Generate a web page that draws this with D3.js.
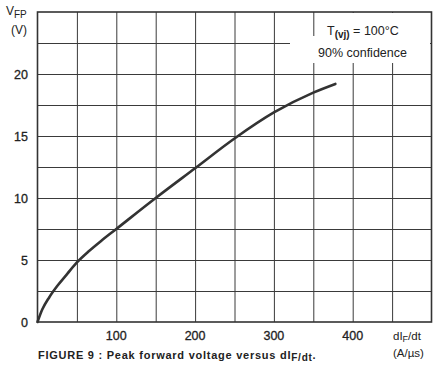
<!DOCTYPE html>
<html lang="en">
<head>
<meta charset="utf-8">
<title>Peak forward voltage versus dIF/dt</title>
<script src="https://cdn.jsdelivr.net/npm/d3@7"></script>
<style>
  body { margin: 0; background: #fff; }
  svg text { font-family: "Liberation Sans", Arial, sans-serif; fill: #222; }
  .grid line { stroke: #3a3a3a; stroke-width: 1; }
  .grid path { display: none; }
</style>
</head>
<body>
<div id="chart"></div>
<script>
// curve: dIF/dt (A/us) -> VFP (V)
var didt = [0, 6, 15, 25, 38, 50, 65, 80, 100, 150, 200, 250, 300, 350, 378];
var vfp  = [0, 1.0, 2.0, 2.9, 3.9, 4.8, 5.7, 6.5, 7.5, 10.0, 12.4, 14.8, 16.9, 18.5, 19.2];

var xTicks = [100, 200, 300, 400];
var yTicks = [0, 5, 10, 15, 20];
var xGrid = [50, 100, 150, 200, 250, 300, 350, 400, 450];
var yGrid = [2.5, 5, 7.5, 10, 12.5, 15, 17.5, 20, 22.5];

var width = 435, height = 371;
var plotL = 37.5, plotR = 431.5, plotT = 12, plotB = 322;

var svg = d3.select("#chart").append("svg")
    .attr("width", width)
    .attr("height", height);

var x = d3.scaleLinear().domain([0, 500]).range([plotL, plotR]);
var y = d3.scaleLinear().domain([0, 25]).range([plotB, plotT]);

// grid
svg.append("g")
    .attr("class", "grid")
    .attr("transform", "translate(0," + plotB + ")")
    .call(d3.axisBottom(x).tickValues(xGrid).tickSize(-(plotB - plotT)).tickFormat(""));

svg.append("g")
    .attr("class", "grid")
    .attr("transform", "translate(" + plotL + ",0)")
    .call(d3.axisLeft(y).tickValues(yGrid).tickSize(-(plotR - plotL)).tickFormat(""));

// frame
svg.append("rect")
    .attr("x", plotL)
    .attr("y", plotT)
    .attr("width", plotR - plotL)
    .attr("height", plotB - plotT)
    .attr("fill", "none")
    .attr("stroke", "#333")
    .attr("stroke-width", 1.6);

// white patches behind the note
svg.append("rect").attr("x", 320).attr("y", 13).attr("width", 110).attr("height", 24).attr("fill", "#fff");
svg.append("rect").attr("x", 290).attr("y", 36).attr("width", 140).attr("height", 27).attr("fill", "#fff");

var line = d3.line()
    .x(function(d, i) { return x(didt[i]); })
    .y(function(d) { return y(d); })
    .curve(d3.curveMonotoneX);

svg.append("path")
    .datum(vfp)
    .attr("d", line)
    .attr("fill", "none")
    .attr("stroke", "#333")
    .attr("stroke-width", 2.6)
    .attr("stroke-linecap", "round");

// tick labels
svg.append("g").selectAll("text")
    .data(yTicks)
    .enter().append("text")
    .attr("x", 28)
    .attr("y", function(d) { return y(d) + 4.5; })
    .attr("text-anchor", "end")
    .attr("font-size", 12.5)
    .attr("stroke", "#222").attr("stroke-width", 0.3)
    .text(function(d) { return d; });

svg.append("g").selectAll("text")
    .data(xTicks)
    .enter().append("text")
    .attr("x", function(d) { return x(d); })
    .attr("y", 340)
    .attr("text-anchor", "middle")
    .attr("font-size", 12.5)
    .attr("stroke", "#222").attr("stroke-width", 0.3)
    .text(function(d) { return d; });

// axis titles
var vt = svg.append("text").attr("x", 6).attr("y", 15).attr("font-size", 12);
vt.append("tspan").text("V");
vt.append("tspan").attr("dy", 3).attr("font-size", 10).text("FP");
svg.append("text").attr("x", 11).attr("y", 34).attr("font-size", 12).text("(V)");

var xt = svg.append("text").attr("x", 393).attr("y", 340).attr("font-size", 11.5);
xt.append("tspan").text("dI");
xt.append("tspan").attr("dy", 2).attr("font-size", 9).text("F");
xt.append("tspan").attr("dy", -2).text("/dt");
svg.append("text").attr("x", 393).attr("y", 357).attr("font-size", 11.5).text("(A/\u00b5s)");

// note
var nt = svg.append("text").attr("x", 327).attr("y", 35).attr("font-size", 12.5);
nt.append("tspan").text("T");
nt.append("tspan").attr("dy", 3).attr("font-size", 10).attr("font-weight", "bold").text("(vj)");
nt.append("tspan").attr("dy", -3).text(" = 100\u00b0C");
svg.append("text").attr("x", 318).attr("y", 57).attr("font-size", 12.5).text("90% confidence");

// caption
var cap = svg.append("text").attr("x", 38).attr("y", 359)
    .attr("font-size", 11).attr("font-weight", "bold").attr("letter-spacing", 0.75);
cap.append("tspan").text("FIGURE 9 : Peak forward voltage versus dI");
cap.append("tspan").attr("dy", 2).attr("font-size", 10).text("F/dt");
cap.append("tspan").attr("dy", -2).text(".");
</script>
</body>
</html>
